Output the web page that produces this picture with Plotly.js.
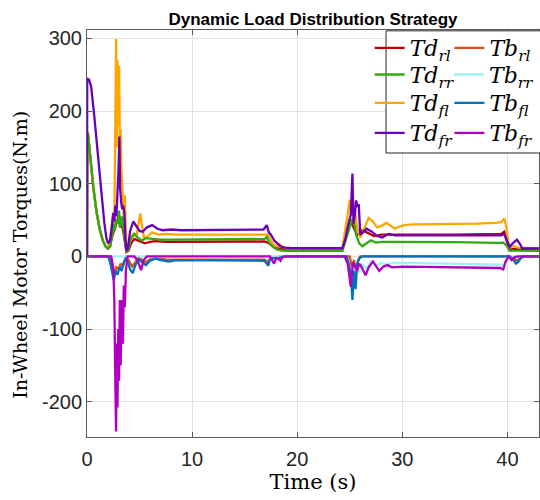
<!DOCTYPE html>
<html>
<head>
<meta charset="utf-8">
<script src="https://cdn.plot.ly/plotly-3.0.1.min.js"></script>
<style>
html,body{margin:0;padding:0;background:#fff;}
#chart{width:540px;height:500px;}
</style>
</head>
<body>
<div id="chart"></div>
<script>
// [time (s), torque (N.m)] samples
const Td_rl = [[0,0],[0.02,171],[0.1,168],[0.35,130],[0.6,95],[0.9,62],[1.2,38],[1.5,22],[1.8,13],[2.0,10.6],[2.2,14],[2.4,28],[2.6,38],[2.8,45],[3.0,55],[3.15,40],[3.3,45],[3.5,30],[3.65,15],[3.75,6],[3.95,8],[4.2,18],[4.5,24],[4.9,22],[5.5,18],[6.0,20],[6.5,21],[7.5,20],[10,20],[12,20.5],[14,20],[16,20],[16.9,20.5],[17.3,18],[17.7,14],[18.2,11],[19,10],[24.3,10],[24.6,25],[24.85,42],[25.0,50],[25.2,45],[25.5,35],[25.7,29],[26.2,36],[26.6,33],[26.9,30],[27.3,28],[28,30],[29,30.5],[30,30],[35,30],[39.4,31],[39.7,34],[39.9,22],[40.2,9],[40.5,10],[41,10],[43,10]];
const Td_fl = [[0,0],[0.02,171],[0.1,168],[0.35,130],[0.6,95],[0.9,62],[1.2,38],[1.5,22],[1.8,13],[2.0,10.6],[2.2,25],[2.4,50],[2.5,58],[2.6,45],[2.7,200],[2.77,299],[2.83,150],[2.9,270],[2.97,180],[3.05,262],[3.12,160],[3.2,175],[3.28,120],[3.35,100],[3.45,82],[3.52,50],[3.6,84],[3.68,30],[3.75,10],[3.9,14],[4.2,28],[4.5,31],[4.7,27],[4.9,45],[5.07,59],[5.25,40],[5.45,24],[5.8,28],[6.2,33],[6.8,30],[7.5,31],[8.5,30],[10,30],[12,31],[14,30],[16,30],[16.9,31],[17.2,30],[17.5,22],[17.8,15],[18.1,14],[18.3,17],[18.6,13],[19,11],[24.3,11],[24.6,40],[24.85,70],[25.0,78],[25.15,55],[25.3,75],[25.5,60],[25.7,40],[26.0,26],[26.4,40],[26.8,53],[27.2,48],[27.6,40],[28.0,42],[28.5,46],[28.9,42],[29.3,38],[29.7,41],[30.2,43],[31,44],[33,44],[35,44],[37,45],[38.8,46],[39.4,47],[39.7,52],[39.9,40],[40.1,18],[40.3,13],[40.6,14],[41,12],[43,11]];
const Td_rr = [[0,0],[0.02,171],[0.1,168],[0.35,130],[0.6,95],[0.9,62],[1.2,38],[1.5,22],[1.8,13],[2.0,10.6],[2.2,14],[2.4,30],[2.55,45],[2.65,35],[2.8,50],[2.95,45],[3.05,63],[3.15,40],[3.3,55],[3.45,40],[3.6,20],[3.75,6],[3.95,10],[4.2,25],[4.5,31],[4.8,26],[5.2,22],[5.6,25],[6.2,24],[7,23],[8,23],[10,23],[12,23],[14,23.5],[16,23.5],[16.9,24],[17.1,27],[17.3,20],[17.6,14],[18,10],[18.5,8],[19,7.5],[24.3,7.5],[24.7,25],[25.0,40],[25.2,50],[25.4,49],[25.6,30],[25.9,18],[26.2,14],[26.6,18],[27.0,22],[27.5,19],[28,20],[29,20],[31,20],[35,19.5],[39,18.5],[39.6,19],[39.9,15],[40.2,8],[43,7.5]];
const Td_fr = [[0,0],[0.02,245],[0.2,243],[0.4,233],[0.7,192],[1.0,142],[1.35,92],[1.65,46],[1.85,25],[2.0,18],[2.2,22],[2.4,45],[2.5,60],[2.6,48],[2.7,70],[2.8,55],[2.9,86],[3.0,120],[3.08,165],[3.15,95],[3.25,75],[3.35,65],[3.45,70],[3.55,60],[3.65,25],[3.75,8],[3.9,12],[4.1,35],[4.4,48],[4.7,42],[5.0,35],[5.3,34],[5.7,40],[6.2,43],[6.7,38],[7.2,36],[8,37],[9,36],[10,36],[11,36.5],[12,37],[13,36],[14,36],[15,36.5],[16,36],[16.8,37],[17.1,43],[17.3,33],[17.5,30],[17.8,22],[18.1,18],[18.4,14],[18.8,12],[19.5,11.5],[24.3,11.5],[24.6,25],[24.8,40],[25.1,58],[25.25,114],[25.35,45],[25.5,60],[25.6,77],[25.75,68],[25.85,72],[26.0,30],[26.3,34],[26.6,38],[27.1,34],[27.6,28],[28.1,26],[28.7,31],[29.3,29],[30,29],[33,29],[36,29],[39.4,29],[39.7,31],[40.0,20],[40.2,13],[40.5,18],[40.9,23],[41.2,17],[41.4,11],[43,11]];
const Tb_rl = [[0,0],[2.1,0],[2.3,-6],[2.5,-20],[2.6,-25],[2.8,-15],[3.0,-18],[3.2,-10],[3.4,-14],[3.6,-5],[3.8,-2],[4.0,-6],[4.3,-14],[4.6,-8],[4.9,-2],[5.3,-5],[5.6,-8],[6.0,-4],[6.6,-3],[7.5,-4],[9,-4],[11,-4],[13,-4.5],[15,-4.5],[16.9,-4.5],[17.2,-8],[17.4,-3],[17.8,-2],[18.3,0],[25.0,0],[25.2,-15],[25.4,-5],[25.6,-20],[25.8,-5],[26,0],[40.3,0],[40.6,-3],[40.9,-6],[41.2,-2],[41.5,0],[43,0]];
const Tb_rr = [[0,0],[24.5,0],[24.8,-10],[25.0,-28],[25.2,-15],[25.4,-30],[25.6,-15],[25.9,-22],[26.2,-11],[26.6,-17],[27.0,-7],[27.5,-13],[28,-9],[28.5,-11],[29,-9],[30,-9],[33,-9.5],[36,-10.5],[39.3,-11.5],[39.6,-13],[39.9,-5],[40.2,0],[43,0]];
const Tb_fl = [[0,0],[2.0,0],[2.2,-8],[2.4,-25],[2.55,-33],[2.7,-20],[2.9,-25],[3.1,-15],[3.3,-20],[3.5,-8],[3.7,-2],[3.9,-8],[4.1,-18],[4.35,-23],[4.6,-12],[4.9,-4],[5.2,-7],[5.6,-12],[6.0,-6],[6.5,-3],[7.0,-5],[7.8,-7],[8.5,-5],[10,-5],[12,-5.5],[14,-6],[16,-6],[16.9,-6],[17.1,-10],[17.25,-13],[17.4,-4],[17.7,-2],[18,-3],[18.4,-1],[18.8,0],[24.7,0],[24.9,-10],[25.1,-25],[25.25,-60],[25.4,-20],[25.55,-45],[25.7,-10],[25.9,-3],[26.2,0],[40.2,0],[40.5,-3],[40.8,-10],[41.0,-8],[41.3,-2],[41.6,0],[43,0]];
const Tb_fr = [[0,0],[2.3,0],[2.5,-15],[2.6,-60],[2.7,-180],[2.77,-241],[2.83,-120],[2.9,-208],[2.97,-100],[3.05,-171],[3.12,-60],[3.2,-150],[3.28,-93],[3.35,-60],[3.42,-120],[3.5,-40],[3.6,-70],[3.7,-20],[3.85,0],[4.5,0],[4.8,-5],[5.14,-19],[5.4,-5],[5.7,0],[17.4,0],[17.6,-6],[17.8,-10],[18.0,-2],[18.2,-3],[18.4,-6],[18.6,-1],[18.9,0],[24.5,0],[24.8,-10],[25.1,-42],[25.3,-8],[25.45,-12],[25.7,-20],[25.9,-10],[26.1,-14],[26.5,-26],[26.8,-15],[27.2,-7],[27.8,-20],[28.2,-14],[28.6,-12],[29.0,-15],[29.4,-14.5],[30,-14],[32,-14.5],[35,-15],[38,-15.5],[39.3,-16],[39.6,-18],[39.8,-8],[40.1,0],[40.4,-5],[40.7,-1],[41,0],[43,0]];

const xTicks = [0, 10, 20, 30, 40];
const yTicks = [-200, -100, 0, 100, 200, 300];

// drawing order (bottom to top), with legend slot
const series = [
  {data: Td_rl, name: '<i>Td</i><sub><i>rl</i></sub>', color: '#C00000', legend: 'legend',  col: 0, row: 0},
  {data: Td_fl, name: '<i>Td</i><sub><i>fl</i></sub>', color: '#FFA500', legend: 'legend3', col: 0, row: 2},
  {data: Td_rr, name: '<i>Td</i><sub><i>rr</i></sub>', color: '#2EAA12', legend: 'legend2', col: 0, row: 1},
  {data: Td_fr, name: '<i>Td</i><sub><i>fr</i></sub>', color: '#6A00B8', legend: 'legend4', col: 0, row: 3},
  {data: Tb_rl, name: '<i>Tb</i><sub><i>rl</i></sub>', color: '#D95319', legend: 'legend5', col: 1, row: 0},
  {data: Tb_rr, name: '<i>Tb</i><sub><i>rr</i></sub>', color: '#A0F2F2', legend: 'legend6', col: 1, row: 1},
  {data: Tb_fl, name: '<i>Tb</i><sub><i>fl</i></sub>', color: '#0072BD', legend: 'legend7', col: 1, row: 2},
  {data: Tb_fr, name: '<i>Tb</i><sub><i>fr</i></sub>', color: '#B000C0', legend: 'legend8', col: 1, row: 3}
];

const traces = series.map(s => ({
  type: 'scatter', mode: 'lines',
  x: s.data.map(p => p[0]),
  y: s.data.map(p => p[1]),
  name: s.name,
  legend: s.legend,
  line: {color: s.color, width: 2.3},
  hoverinfo: 'skip'
}));

const legendX = [0.624, 0.80];
const legendY = [0.9558, 0.8902, 0.8206, 0.7469];
const legendFont = {family: 'DejaVu Serif', size: 22, color: '#000'};
const axisGray = '#5a5a5a';

const layout = {
  width: 540, height: 500,
  margin: {l: 87, r: 0, t: 30, b: 63},
  paper_bgcolor: '#fff', plot_bgcolor: '#fff',
  showlegend: true,
  title: {
    text: '<b>Dynamic Load Distribution Strategy</b>',
    font: {family: 'Liberation Sans', size: 17, color: '#000'},
    x: 0.5, xref: 'paper', xanchor: 'center',
    y: 0.962, yref: 'container', yanchor: 'middle'
  },
  xaxis: {
    range: [0, 43], tickvals: xTicks, ticktext: xTicks.map(String),
    ticks: 'inside', ticklen: 5, tickcolor: axisGray,
    showline: true, linecolor: axisGray, linewidth: 1, mirror: 'ticks',
    showgrid: true, gridcolor: '#e0e0e0', gridwidth: 1, zeroline: false,
    tickfont: {family: 'Liberation Sans', size: 20, color: '#262626'},
    ticklabelstandoff: 4,
    title: {text: 'Time (s)', font: {family: 'DejaVu Serif', size: 21, color: '#000'}, standoff: 2},
    automargin: false
  },
  yaxis: {
    range: [-248.5, 311.5], tickvals: yTicks, ticktext: yTicks.map(String),
    ticks: 'inside', ticklen: 5, tickcolor: axisGray,
    showline: true, linecolor: axisGray, linewidth: 1, mirror: 'ticks',
    showgrid: true, gridcolor: '#e0e0e0', gridwidth: 1, zeroline: false,
    tickfont: {family: 'Liberation Sans', size: 20, color: '#262626'},
    automargin: false
  },
  annotations: [{
    text: 'In-Wheel Motor Torques(N.m)', textangle: -90,
    xref: 'paper', yref: 'paper', x: -0.148, y: 0.448,
    xanchor: 'center', yanchor: 'middle', showarrow: false,
    font: {family: 'DejaVu Serif', size: 19, color: '#000'}
  }],
  shapes: [{
    type: 'rect', xref: 'paper', yref: 'paper',
    x0: 0.6616, x1: 1.02, y0: 0.6978, y1: 0.998,
    fillcolor: '#fff', line: {color: '#262626', width: 1}, layer: 'above'
  }]
};

series.forEach(s => {
  layout[s.legend] = {
    x: legendX[s.col], y: legendY[s.row], xanchor: 'left', yanchor: 'middle',
    xref: 'paper', yref: 'paper',
    bgcolor: 'rgba(0,0,0,0)', borderwidth: 0, font: legendFont,
    itemwidth: 30
  };
});

Plotly.newPlot('chart', traces, layout, {displayModeBar: false, staticPlot: true});
</script>
</body>
</html>
